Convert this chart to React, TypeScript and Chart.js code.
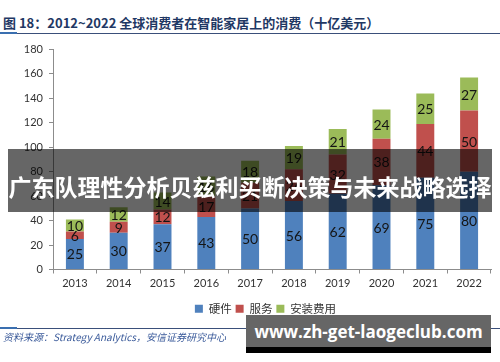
import React, { useEffect, useRef } from "react";
import { Chart, registerables } from "chart.js";

Chart.register(...registerables);

const years = ["2013", "2014", "2015", "2016", "2017", "2018", "2019", "2020", "2021", "2022"];
const hardware = [25, 30, 37, 43, 50, 56, 62, 69, 75, 80];
const services = [6, 9, 12, 17, 21, 26, 32, 38, 44, 50];
const installation = [10, 12, 14, 16, 18, 19, 21, 24, 25, 27];
const seriesNames = ["硬件", "服务", "安装费用"];
const seriesColors = ["#4f81bd", "#c0504d", "#9bbb59"];
const yTicks = [0, 20, 40, 60, 80, 100, 120, 140, 160, 180];

const titleText = "图 18：2012~2022 全球消费者在智能家居上的消费（十亿美元）";
const sourceText = "资料来源：Strategy Analytics，安信证券研究中心";
const bannerText = "广东队理性分析贝兹利买断决策与未来战略选择";
const watermarkText = "www.zh-get-laogeclub.com";

const valueLabels = {
  id: "valueLabels",
  afterDatasetsDraw(chart: any) {
    const ctx = chart.ctx;
    ctx.save();
    ctx.font = "14px Lato, 'Liberation Sans', sans-serif";
    ctx.fillStyle = "#141414";
    ctx.textAlign = "center";
    ctx.textBaseline = "middle";
    chart.data.datasets.forEach((ds: any, i: number) => {
      const meta = chart.getDatasetMeta(i);
      meta.data.forEach((bar: any, j: number) => {
        const y = (bar.y + bar.base) / 2;
        ctx.fillText(String(ds.data[j]), bar.x, y + 1);
      });
    });
    ctx.restore();
  },
};

const legendShift = {
  id: "legendShift",
  afterLayout(chart: any) {
    if (chart.legend) {
      chart.legend.left += 20;
      chart.legend.right += 20;
    }
  },
};

export default function App() {
  const ref = useRef<HTMLCanvasElement>(null);
  useEffect(() => {
    if (!ref.current) return;
    const chart = new Chart(ref.current, {
      type: "bar",
      data: {
        labels: years,
        datasets: [hardware, services, installation].map((d, i) => ({
          label: seriesNames[i],
          data: d,
          backgroundColor: seriesColors[i],
          borderWidth: 0,
          barPercentage: 0.41,
          categoryPercentage: 1,
        })),
      },
      options: {
        animation: false,
        responsive: false,
        maintainAspectRatio: false,
        layout: { padding: { top: 49.5, right: 9, left: 0, bottom: 37.5 } },
        plugins: {
          legend: {
            position: "bottom",
            labels: {
              boxWidth: 8,
              boxHeight: 8,
              padding: 4,
              color: "#333",
              font: { size: 11.5, family: "'Noto Sans CJK SC', sans-serif" },
            },
          },
          tooltip: { enabled: false },
        },
        scales: {
          x: {
            stacked: true,
            offset: true,
            grid: {
              offset: true,
              drawOnChartArea: false,
              drawTicks: true,
              tickLength: 4,
              color: "#8c8c8c",
            },
            border: { display: true, color: "#8c8c8c" },
            ticks: {
              color: "#333",
              padding: 3,
              font: { size: 11, family: "Lato, 'Liberation Sans', sans-serif" },
            },
            afterFit: (s: any) => {
              s.height = 29.5;
            },
          },
          y: {
            stacked: true,
            min: 0,
            max: 180,
            afterBuildTicks: (s: any) => {
              s.ticks = yTicks.map((v) => ({ value: v }));
            },
            grid: {
              drawOnChartArea: false,
              drawTicks: true,
              tickLength: 4,
              color: "#8c8c8c",
            },
            border: { display: true, color: "#8c8c8c" },
            ticks: {
              color: "#333",
              padding: 6,
              font: { size: 11, family: "Lato, 'Liberation Sans', sans-serif" },
            },
            afterFit: (s: any) => {
              s.width = 53;
            },
          },
        },
      },
      plugins: [valueLabels, legendShift],
    });
    return () => chart.destroy();
  }, []);

  return (
    <div
      style={{
        position: "fixed",
        left: 0,
        top: 0,
        width: 500,
        height: 362,
        background: "#fff",
        overflow: "hidden",
        fontFamily: "'Noto Sans CJK SC', sans-serif",
      }}
    >
      <div
        style={{
          position: "absolute",
          left: 3,
          top: 14,
          fontSize: 13,
          fontWeight: 700,
          color: "#1f3864",
          whiteSpace: "nowrap",
          lineHeight: "18px",
        }}
      >
        {titleText}
      </div>
      <div style={{ position: "absolute", left: 0, top: 33, width: 500, height: 1, background: "#3a4f7a" }} />
      <div style={{ position: "absolute", left: 0, top: 32, width: 17, height: 2, background: "#3a6fb0" }} />
      <canvas ref={ref} width={500} height={362} style={{ position: "absolute", left: 0, top: 0 }} />
      <div style={{ position: "absolute", left: 0, top: 328, width: 500, height: 1, background: "#3a4f7a" }} />
      <div style={{ position: "absolute", left: 0, top: 327, width: 17, height: 2, background: "#3a6fb0" }} />
      <div
        style={{
          position: "absolute",
          left: 3,
          top: 330,
          fontSize: 10,
          fontStyle: "italic",
          color: "#3a5a9a",
          whiteSpace: "nowrap",
          lineHeight: "14px",
        }}
      >
        {sourceText}
      </div>
      <div
        style={{
          position: "absolute",
          left: 8,
          top: 149,
          width: 484,
          height: 63,
          background: "rgba(0,0,0,0.6)",
          color: "#fff",
          fontWeight: 700,
          fontSize: 23,
          display: "flex",
          alignItems: "center",
          justifyContent: "center",
          whiteSpace: "nowrap",
          paddingTop: 10,
          boxSizing: "border-box",
        }}
      >
        {bannerText}
      </div>
      <div
        style={{
          position: "absolute",
          left: 246,
          top: 315,
          width: 245,
          height: 38,
          background: "#666",
          borderBottom: "6px solid #000",
          boxSizing: "border-box",
          color: "#fff",
          fontWeight: 700,
          fontSize: 17,
          fontFamily: "'Open Sans', sans-serif",
          display: "flex",
          alignItems: "center",
          justifyContent: "center",
          whiteSpace: "nowrap",
        }}
      >
        {watermarkText}
      </div>
    </div>
  );
}
